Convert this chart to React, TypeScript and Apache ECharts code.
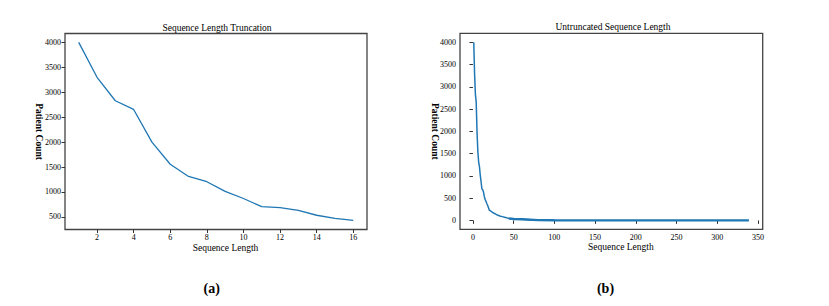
import React, { useEffect, useRef } from "react";
import * as echarts from "echarts";

// ---- data ----
const truncLengths = [1, 2, 3, 4, 5, 6, 7, 8, 9, 10, 11, 12, 13, 14, 15, 16];
const truncCounts = [4000, 3300, 2830, 2655, 2000, 1555, 1310, 1205, 1010, 868, 704, 686, 630, 532, 468, 428];

const fullLengths = [1, 2, 3, 4, 5, 6, 7, 8, 9, 10, 11, 12, 13, 14, 15, 16, 17, 18, 19, 20, 21, 22, 23, 24, 26, 28, 30, 33, 36, 40, 44, 48, 52, 56, 60, 65, 70, 75, 80];
const fullCounts = [4000, 3300, 2830, 2655, 2000, 1555, 1310, 1205, 1010, 868, 704, 686, 630, 532, 468, 428, 380, 340, 290, 235, 218, 206, 195, 182, 160, 140, 120, 100, 85, 65, 45, 36, 30, 27, 24, 19, 14, 9, 5];
const tailLengths = [44, 50, 60, 80, 100, 140, 200, 260, 339];
const tailCounts = [45, 32, 24, 5, 2, 1, 1, 0, 0];

const leftXTicks = [2, 4, 6, 8, 10, 12, 14, 16];
const leftYTicks = [500, 1000, 1500, 2000, 2500, 3000, 3500, 4000];
const rightXTicks = [0, 50, 100, 150, 200, 250, 300, 350];
const rightYTicks = [0, 500, 1000, 1500, 2000, 2500, 3000, 3500, 4000];

const titles = ["Sequence Length Truncation", "Untruncated Sequence Length"];
const xName = "Sequence Length";
const yName = "Patient Count";
const panelLabels = ["(a)", "(b)"];

const FONT = "'Liberation Serif', 'DejaVu Serif', serif";
const LINE = "#1f77b4";

function zip(xs: number[], ys: number[]) {
  return xs.map((x, i) => [x, ys[i]]);
}

const plain = (v: number) => String(v);

function xAxisCfg(gridIndex: number, min: number, max: number, ticks: number[]) {
  return {
    type: "value",
    gridIndex,
    min,
    max,
    name: xName,
    nameLocation: "middle",
    nameGap: 13,
    nameMoveOverlap: false,
    nameTextStyle: { fontFamily: FONT, fontSize: 9.5, color: "#000", padding: [0, 0, 0, 19] },
    axisLine: { show: false },
    axisTick: { show: true, length: 3.5, lineStyle: { color: "#333", width: 1 }, customValues: ticks },
    axisLabel: { fontFamily: FONT, fontSize: 8, color: "#000", margin: 4, customValues: ticks, formatter: plain },
    splitLine: { show: false },
  };
}

function yAxisCfg(gridIndex: number, min: number, max: number, ticks: number[], gap: number) {
  return {
    type: "value",
    gridIndex,
    min,
    max,
    name: yName,
    nameLocation: "middle",
    nameRotate: -90,
    nameGap: gap,
    nameMoveOverlap: false,
    nameTextStyle: { fontFamily: FONT, fontSize: 9.5, color: "#000", fontWeight: "bold" },
    axisLine: { show: false },
    axisTick: { show: true, length: 3.5, lineStyle: { color: "#333", width: 1 }, customValues: ticks },
    axisLabel: { fontFamily: FONT, fontSize: 8, color: "#000", margin: 4, customValues: ticks, formatter: plain },
    splitLine: { show: false },
  };
}

export default function App() {
  const ref = useRef<HTMLDivElement>(null);
  useEffect(() => {
    if (!ref.current) return;
    const chart = echarts.init(ref.current, null, { renderer: "svg" });
    chart.setOption({
      animation: false,
      backgroundColor: "#ffffff",
      grid: [
        { left: 65, top: 33.5, width: 302, height: 196, show: true, borderColor: "#444", borderWidth: 1.3, backgroundColor: "transparent" },
        { left: 460, top: 33.3, width: 302.7, height: 196, show: true, borderColor: "#444", borderWidth: 1.3, backgroundColor: "transparent" },
      ],
      xAxis: [xAxisCfg(0, 0.25, 16.75, leftXTicks), xAxisCfg(1, -15.9, 355.9, rightXTicks)],
      yAxis: [yAxisCfg(0, 246, 4179, leftYTicks, 21.5), yAxisCfg(1, -200, 4200, rightYTicks, 20.2)],
      series: [
        {
          type: "line",
          xAxisIndex: 0,
          yAxisIndex: 0,
          data: zip(truncLengths, truncCounts),
          showSymbol: false,
          lineStyle: { color: LINE, width: 1.3 },
        },
        {
          type: "line",
          xAxisIndex: 1,
          yAxisIndex: 1,
          data: zip(fullLengths, fullCounts),
          showSymbol: false,
          lineStyle: { color: LINE, width: 1.5 },
        },
        {
          type: "line",
          xAxisIndex: 1,
          yAxisIndex: 1,
          data: zip(tailLengths, tailCounts),
          showSymbol: false,
          lineStyle: { color: LINE, width: 2.4 },
        },
      ],
      graphic: [
        { type: "text", x: 217, y: 27.5, style: { text: titles[0], font: `9.5px ${FONT}`, fill: "#000", align: "center", verticalAlign: "middle" } },
        { type: "text", x: 613, y: 27, style: { text: titles[1], font: `9.5px ${FONT}`, fill: "#000", align: "center", verticalAlign: "middle" } },
        { type: "text", x: 211.7, y: 288, style: { text: panelLabels[0], font: `bold 14px ${FONT}`, fill: "#000", align: "center", verticalAlign: "middle" } },
        { type: "text", x: 605.5, y: 288, style: { text: panelLabels[1], font: `bold 14px ${FONT}`, fill: "#000", align: "center", verticalAlign: "middle" } },
      ],
    });
    return () => chart.dispose();
  }, []);
  return <div ref={ref} style={{ position: "fixed", left: 0, top: 0, width: 829, height: 306, background: "#fff" }} />;
}
